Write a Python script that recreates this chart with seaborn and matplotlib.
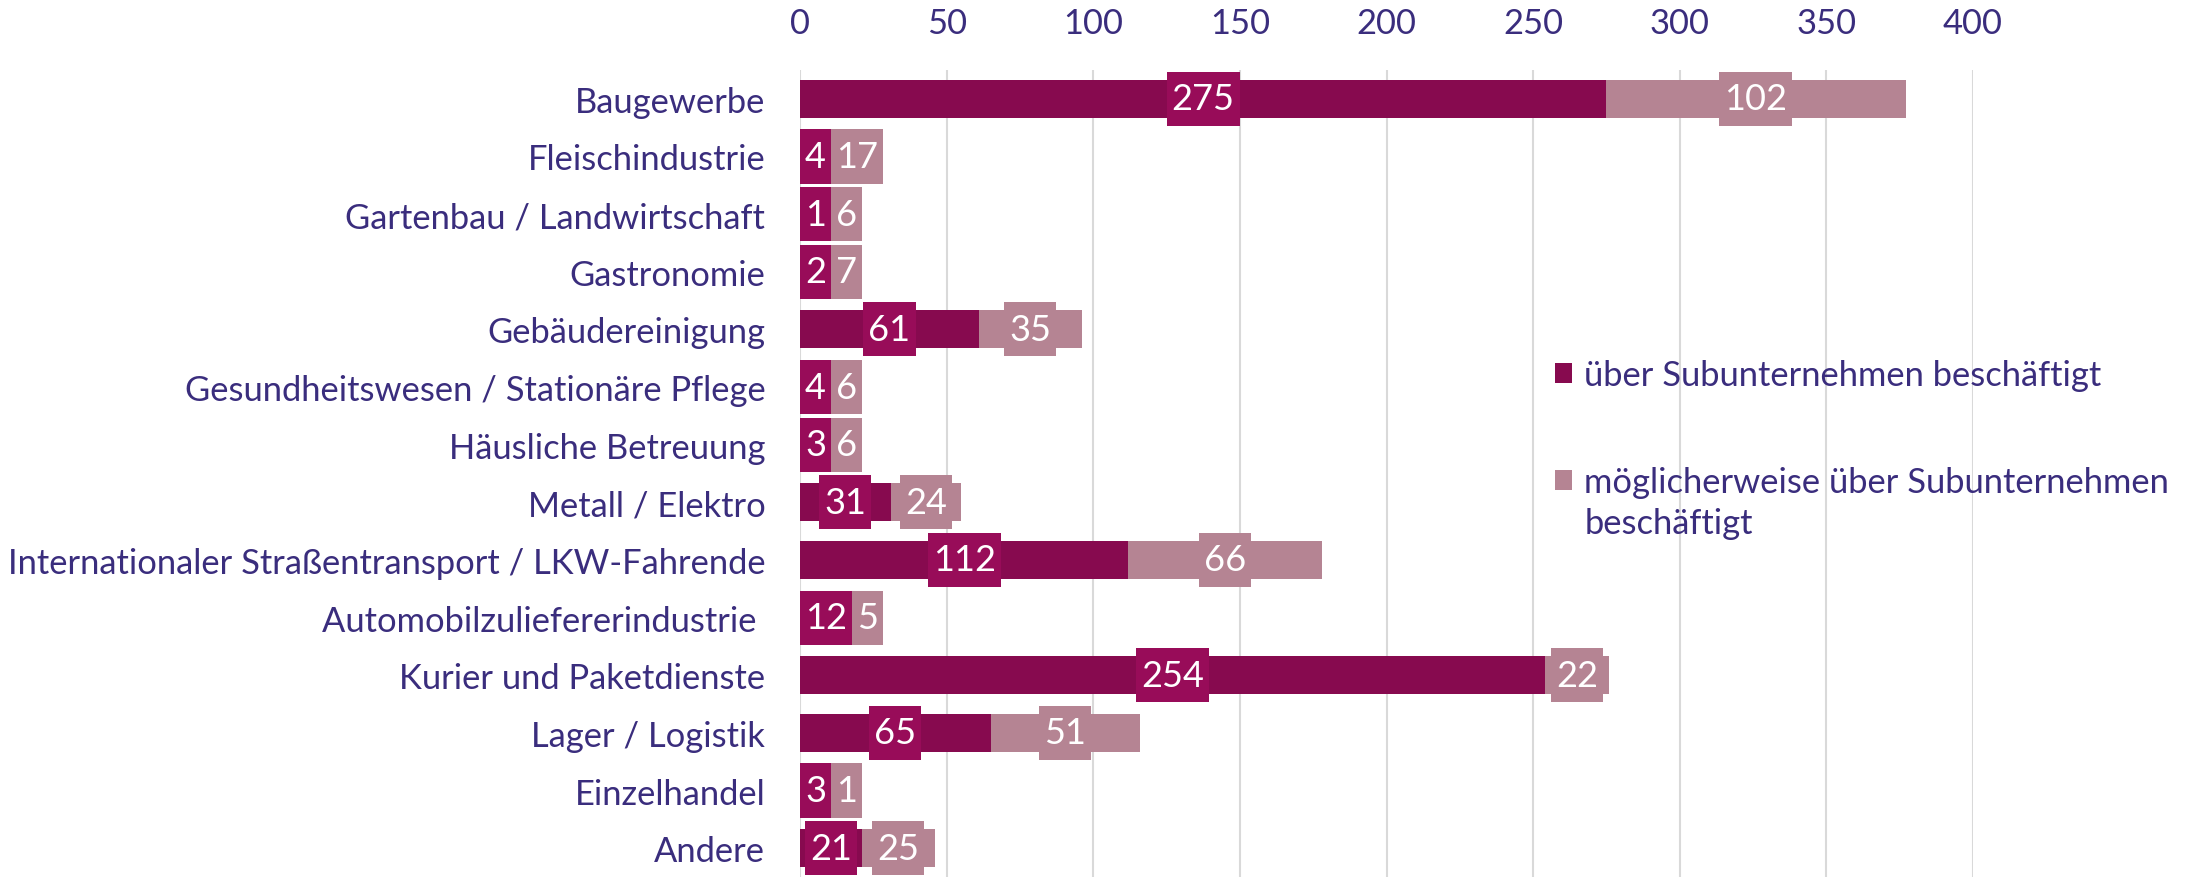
import matplotlib
matplotlib.use("Agg")
import matplotlib.pyplot as plt
import seaborn as sns
import pandas as pd
from matplotlib.patches import Patch

# Daten
branchen = [
    "Baugewerbe",
    "Fleischindustrie",
    "Gartenbau / Landwirtschaft",
    "Gastronomie",
    "Gebäudereinigung",
    "Gesundheitswesen / Stationäre Pflege",
    "Häusliche Betreuung",
    "Metall / Elektro",
    "Internationaler Straßentransport / LKW-Fahrende",
    "Automobilzuliefererindustrie ",
    "Kurier und Paketdienste",
    "Lager / Logistik",
    "Einzelhandel",
    "Andere",
]
sicher = [275, 4, 1, 2, 61, 4, 3, 31, 112, 12, 254, 65, 3, 21]
moeglich = [102, 17, 6, 7, 35, 6, 6, 24, 66, 5, 22, 51, 1, 25]
x_ticks = [0, 50, 100, 150, 200, 250, 300, 350, 400]
legende = ["über Subunternehmen beschäftigt",
           "möglicherweise über Subunternehmen"]
legende_zeile2 = "beschäftigt"

df = pd.DataFrame({"Branche": branchen, "sicher": sicher, "moeglich": moeglich})
df["gesamt"] = df["sicher"] + df["moeglich"]

DUNKEL = "#870A4F"
DUNKEL_BOX = "#980C59"
HELL = "#B58493"
TEXT = "#3A2D7D"
GRID = "#D9D9D9"
FS = 24.8      # Achsen und Legende
FS_LBL = 26    # Datenbeschriftungen

sns.set_theme(style="white")
plt.rcParams["font.family"] = ["Lato", "DejaVu Sans"]

W, H = 2202, 879
fig = plt.figure(figsize=(W / 100, H / 100), dpi=100)
ax = fig.add_axes([800 / W, 1 / H, (1973 - 800) / W, (878 - 71) / H])

# gestapelte Balken: erst Gesamt (hell), darüber der sichere Anteil (dunkel)
sns.barplot(data=df, y="Branche", x="gesamt", color=HELL, width=0.66,
            saturation=1, orient="h", linewidth=0, ax=ax)
sns.barplot(data=df, y="Branche", x="sicher", color=DUNKEL, width=0.66,
            saturation=1, orient="h", linewidth=0, ax=ax)

ax.set_xlim(0, 400)
ax.set_ylim(13.5, -0.5)
ax.set_xticks(x_ticks)
ax.set_xlabel("")
ax.set_ylabel("")
ax.xaxis.tick_top()
ax.set_axisbelow(True)
ax.xaxis.grid(True, color=GRID, linewidth=1.5)
ax.yaxis.grid(False)
for s in ax.spines.values():
    s.set_visible(False)
ax.tick_params(axis="x", length=0, pad=22, labelsize=FS, labelcolor=TEXT)
ax.tick_params(axis="y", length=0, pad=25, labelsize=FS, labelcolor=TEXT)

# Datenbeschriftungen mit Füllung (wie Excel), kleine Werte nach rechts geschoben
fig.canvas.draw()
renderer = fig.canvas.get_renderer()
px_unit = ax.transData.transform((1, 0))[0] - ax.transData.transform((0, 0))[0]
PAD_PX = 5


def box_breite(txt):
    t = ax.text(0, 0, txt, fontsize=FS_LBL)
    w = t.get_window_extent(renderer).width
    t.remove()
    return (w + 2 * PAD_PX) / px_unit


for i, (s, m) in enumerate(zip(sicher, moeglich)):
    dw = box_breite(str(s))
    cx = max(s / 2, dw / 2)
    lw = box_breite(str(m))
    lx = max(s + m / 2, cx + dw / 2 + lw / 2)
    ax.barh(i, dw, left=cx - dw / 2, height=0.94, color=DUNKEL_BOX,
            linewidth=0, zorder=4)
    ax.barh(i, lw, left=lx - lw / 2, height=0.94, color=HELL,
            linewidth=0, zorder=4)
    ax.text(cx, i, str(s), ha="center", va="center", color="white",
            fontsize=FS_LBL, zorder=5)
    ax.text(lx, i, str(m), ha="center", va="center", color="white",
            fontsize=FS_LBL, zorder=5)

handles = [Patch(color=DUNKEL, label=legende[0], linewidth=0),
           Patch(color=HELL, label=legende[1], linewidth=0)]
leg = fig.legend(handles=handles, loc="upper left", bbox_to_anchor=(1555 / W, 1 - 350 / H),
                 frameon=False, fontsize=FS, labelcolor=TEXT, handlelength=0.5,
                 handleheight=0.5, handletextpad=0.35, labelspacing=2.18,
                 borderpad=0, borderaxespad=0)

# Legende so verschieben, dass der erste Eintrag bei y=376 px liegt
fig.canvas.draw()
t0 = leg.get_texts()[0].get_window_extent(renderer)
dy = (H - 376) - (t0.y0 + t0.y1) / 2
leg.set_bbox_to_anchor((1555 / W, 1 - 350 / H + dy / H), transform=fig.transFigure)
fig.canvas.draw()
t1 = leg.get_texts()[1].get_window_extent(renderer)
fig.text(t1.x0 / W, (t1.y0 - 41) / H, legende_zeile2, ha="left", va="bottom",
         fontsize=FS, color=TEXT)

fig.savefig("out.png", dpi=100)
